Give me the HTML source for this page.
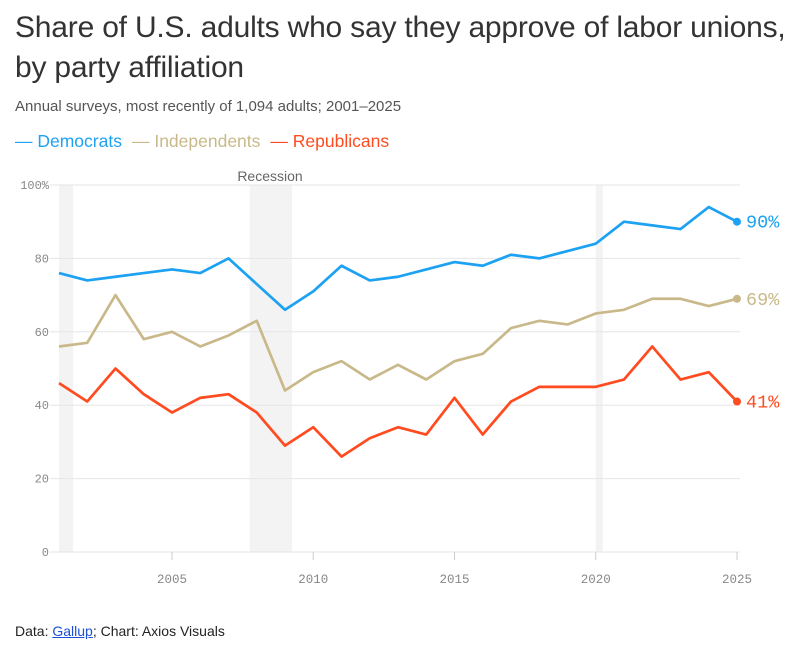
<!DOCTYPE html>
<html><head><meta charset="utf-8"><style>
body{margin:0;width:802px;height:652px;background:#fff;font-family:"Liberation Sans",sans-serif;position:relative;overflow:hidden}
.t{position:absolute;left:15px;top:8px;font-size:30px;line-height:40px;color:#333;width:785px;letter-spacing:-0.2px}
.s{position:absolute;left:15px;top:98px;font-size:15px;color:#555}
.lg{position:absolute;left:15px;top:131px;font-size:17.5px}
.lg span{margin-right:10px}
.f{position:absolute;left:15px;top:623px;font-size:14px;color:#222}
.f a{color:#1a4fd6;text-decoration:underline}
</style></head><body>
<div class="t">Share of U.S. adults who say they approve of labor unions, by party affiliation</div>
<div class="s">Annual surveys, most recently of 1,094 adults; 2001–2025</div>
<div class="lg"><span style="color:#1da1f2">— Democrats</span><span style="color:#c9b98a">— Independents</span><span style="color:#ff4b1f">— Republicans</span></div>
<svg id="c" width="802" height="652" style="position:absolute;left:0;top:0"></svg>
<div class="f">Data: <a>Gallup</a>; Chart: Axios Visuals</div>
<script>
const years=[2001,2002,2003,2004,2005,2006,2007,2008,2009,2010,2011,2012,2013,2014,2015,2016,2017,2018,2019,2020,2021,2022,2023,2024,2025];
const dem=[76,74,75,76,77,76,80,73,66,71,78,74,75,77,79,78,81,80,82,84,90,89,88,94,90];
const ind=[56,57,70,58,60,56,59,63,44,49,52,47,51,47,52,54,61,63,62,65,66,69,69,67,69];
const rep=[46,41,50,43,38,42,43,38,29,34,26,31,34,32,42,32,41,45,45,45,47,56,47,49,41];
const yTicks=[0,20,40,60,80,100];
const xTicks=[2005,2010,2015,2020,2025];
const recessions=[[2001,2001.5],[2007.75,2009.25],[2020,2020.25]];
const NS="http://www.w3.org/2000/svg",svg=document.getElementById('c');
const x=v=>59+(v-2001)*(737-59)/24, y=v=>552-v*3.67;
function mk(t,a){const e=document.createElementNS(NS,t);for(const k in a)e.setAttribute(k,a[k]);svg.appendChild(e);return e;}
recessions.forEach(r=>{const e=mk('rect',{x:x(r[0]),y:185,width:x(r[1])-x(r[0]),height:367,fill:'#f3f3f3'});

});
const rl=mk('text',{x:270,y:181,'text-anchor':'middle','font-size':14,fill:'#666','font-family':'Liberation Sans'});rl.textContent='Recession';


yTicks.forEach(v=>{const g=mk('line',{x1:50,x2:740,y1:y(v),y2:y(v),stroke:'#e6e6e6'});


const t=mk('text',{x:49,y:y(v)+4,'text-anchor':'end','font-size':12,fill:'#888','font-family':'Liberation Mono'});t.textContent=v+(v==100?'%':'');

});
xTicks.forEach(v=>{const l=mk('line',{x1:x(v),x2:x(v),y1:552,y2:560,stroke:'#ccc'});


const t=mk('text',{x:x(v),y:583,'text-anchor':'middle','font-size':12.5,fill:'#888','font-family':'Liberation Mono'});t.textContent=v;

});
[[dem,'#1da1f2','democrats'],[ind,'#c9b98a','independents'],[rep,'#ff4b1f','republicans']].forEach(([d,c,n])=>{
const p=mk('polyline',{points:d.map((v,i)=>x(years[i])+','+y(v)).join(' '),fill:'none',stroke:c,'stroke-width':2.7,'stroke-linejoin':'round'});


const L=d.length-1;
const dot=mk('circle',{cx:x(years[L]),cy:y(d[L]),r:4,fill:c});


const t=mk('text',{x:746,y:y(d[L])+6,'font-size':18.5,fill:c,'font-family':'Liberation Mono'});t.textContent=d[L]+'%';

});
</script>
</body></html>
